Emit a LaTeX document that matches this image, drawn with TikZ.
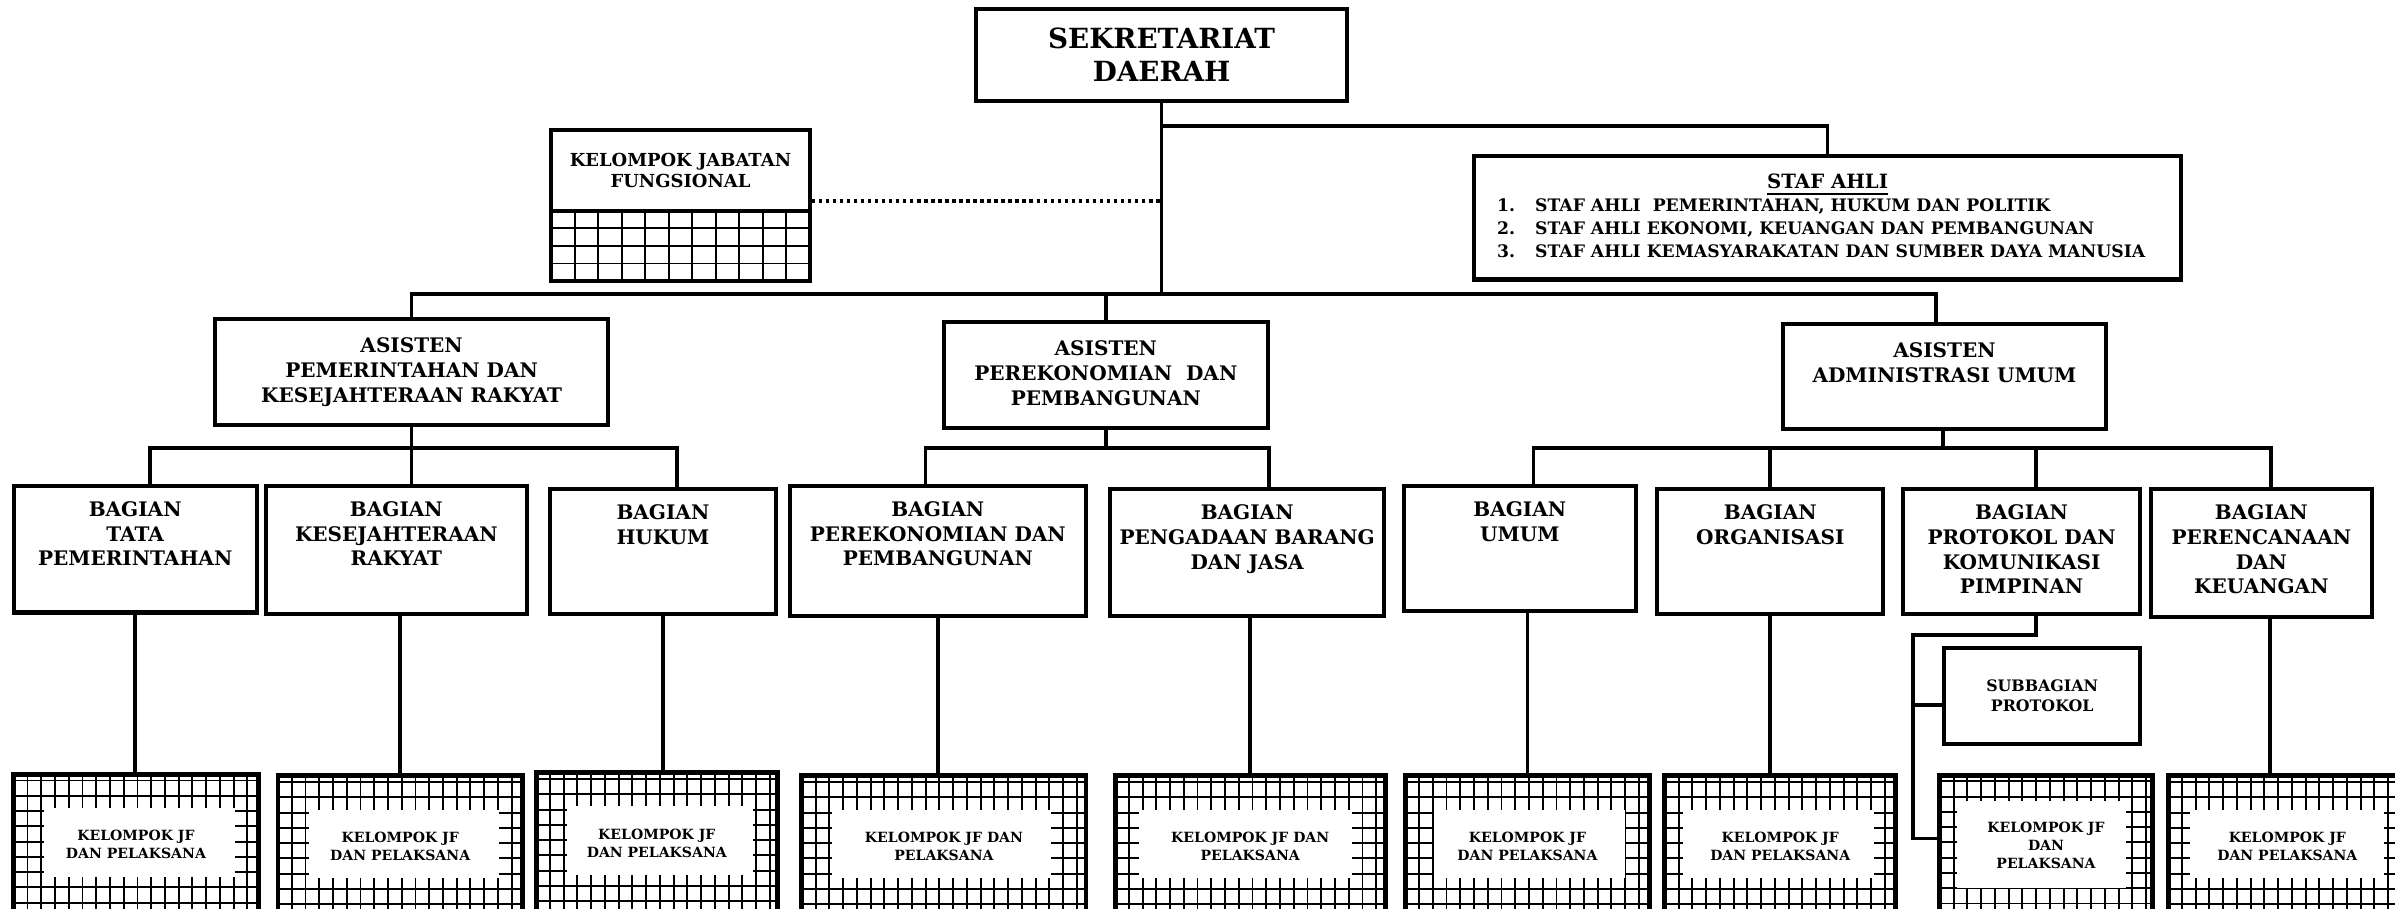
\documentclass[tikz,border=0pt]{standalone}
\usepackage{fontspec}
\setmainfont{DejaVu Serif}
\newdimen\pxu
\pxu=0.15274mm

\begin{document}
\begin{tikzpicture}[
            x=0.15274mm, y=-0.15274mm,
            box/.style={draw, line width=1.15pt, inner sep=0pt, align=center},
            wh/.style 2 args={minimum width=#1*\pxu, minimum height=#2*\pxu},
            lbl/.style={anchor=north, align=center, inner sep=0pt, font=\bfseries\fontsize{5.7}{7.1}\selectfont},
            conn/.style={draw, line width=1.05pt},
            dotline/.style={draw, line width=1.2pt, dash pattern=on 1pt off 1pt},
            gridline/.style={draw, line width=0.55pt},
            kjfgrid/.style={box, path picture={
                \coordinate (pw) at (path picture bounding box.north west);
                \coordinate (pe) at (path picture bounding box.north east);
                \coordinate (ps) at (path picture bounding box.south west);
                \foreach \i in {1,...,10}
                    \draw[gridline] ([xshift=\i*15.36*\pxu]pw) -- ([xshift=\i*15.36*\pxu]ps);
                \foreach \j in {1,2,3}
                    \draw[gridline] ([yshift=-\j*11.5*\pxu]pw) -- ([yshift=-\j*11.5*\pxu]pe);
            }},
            jf/.style n args={4}{box, line width=1.4pt, font=\bfseries\fontsize{4}{5.2}\selectfont,
                path picture={
                    \coordinate (pw) at (path picture bounding box.north west);
                    \coordinate (pe) at (path picture bounding box.north east);
                    \coordinate (ps) at (path picture bounding box.south west);
                    \foreach \i in {1,...,22}
                        \draw[gridline] ([xshift=\i*9*\pxu]pw) -- ([xshift=\i*9*\pxu]ps);
                    \foreach \j in {0,...,9}
                        \draw[gridline] ([yshift=-4*\pxu-\j*10*\pxu]pw) -- ([yshift=-4*\pxu-\j*10*\pxu]pe);
                    \fill[white] ([xshift=#1*\pxu, yshift=-#3*\pxu]pw) rectangle ([xshift=-#2*\pxu, yshift=-#4*\pxu]pe);
                }},
        ]
            \useasboundingbox (0,0) rectangle (1568,595);
            \clip (0,0) rectangle (1568,595);

            \node[box, wh={243}{60}, font=\bfseries\fontsize{7.9}{9.5}\selectfont] (sekda) at (760.5,36) {SEKRETARIAT\\DAERAH};

            \node[box, wh={463}{81}] (staf) at (1196.5,142.5) {};
            \node[lbl, font=\bfseries\fontsize{5.6}{6.3}\selectfont] (staft) at ([yshift=-13*\pxu]staf.north) {\underline{STAF AHLI}};
            \node[lbl, anchor=north west, align=left, font=\bfseries\fontsize{4.9}{6.5}\selectfont] (stafl) at ([xshift=16*\pxu, yshift=-29*\pxu]staf.north west)
                {\makebox[10.8pt][l]{1.}STAF AHLI\ \ PEMERINTAHAN, HUKUM DAN POLITIK\\
                 \makebox[10.8pt][l]{2.}STAF AHLI EKONOMI, KEUANGAN DAN PEMBANGUNAN\\
                 \makebox[10.8pt][l]{3.}STAF AHLI KEMASYARAKATAN DAN SUMBER DAYA MANUSIA};

            \node[box, wh={169}{53}, font=\bfseries\fontsize{5.1}{6.1}\selectfont] (kjf) at (445.5,111.5) {KELOMPOK JABATAN\\FUNGSIONAL};
            \node[kjfgrid, wh={169}{46}] (kjfg) at (445.5,161) {};

            \node[box, wh={257}{69}] (ast1) at (269.5,243.5) {};
            \node[lbl] (ast1t) at ([yshift=-13*\pxu]ast1.north) {ASISTEN\\PEMERINTAHAN DAN\\KESEJAHTERAAN RAKYAT};
            \node[box, wh={212}{69}] (ast2) at (724,245.5) {};
            \node[lbl] (ast2t) at ([yshift=-13*\pxu]ast2.north) {ASISTEN\\PEREKONOMIAN\ \ DAN\\PEMBANGUNAN};
            \node[box, wh={212}{69}] (ast3) at (1273,246.5) {};
            \node[lbl] (ast3t) at ([yshift=-13*\pxu]ast3.north) {ASISTEN\\ADMINISTRASI UMUM};

            \node[box, wh={159}{83}] (b1) at (88.5,359.5) {};
            \node[lbl] (b1t) at ([yshift=-11*\pxu]b1.north) {BAGIAN\\TATA\\PEMERINTAHAN};
            \node[box, wh={171}{84}] (b2) at (259.5,360) {};
            \node[lbl] (b2t) at ([yshift=-11*\pxu]b2.north) {BAGIAN\\KESEJAHTERAAN\\RAKYAT};
            \node[box, wh={148}{82}] (b3) at (434,361) {};
            \node[lbl] (b3t) at ([yshift=-11*\pxu]b3.north) {BAGIAN\\HUKUM};
            \node[box, wh={194}{85}] (b4) at (614,360.5) {};
            \node[lbl] (b4t) at ([yshift=-11*\pxu]b4.north) {BAGIAN\\PEREKONOMIAN DAN\\PEMBANGUNAN};
            \node[box, wh={179}{83}] (b5) at (816.5,361.5) {};
            \node[lbl] (b5t) at ([yshift=-11*\pxu]b5.north) {BAGIAN\\PENGADAAN BARANG\\DAN JASA};
            \node[box, wh={152}{82}] (b6) at (995,359) {};
            \node[lbl] (b6t) at ([yshift=-11*\pxu]b6.north) {BAGIAN\\UMUM};
            \node[box, wh={148}{82}] (b7) at (1159,361) {};
            \node[lbl] (b7t) at ([yshift=-11*\pxu]b7.north) {BAGIAN\\ORGANISASI};
            \node[box, wh={155}{82}] (b8) at (1323.5,361) {};
            \node[lbl] (b8t) at ([yshift=-11*\pxu]b8.north) {BAGIAN\\PROTOKOL DAN\\KOMUNIKASI\\PIMPINAN};
            \node[box, wh={145}{84}] (b9) at (1480.5,362) {};
            \node[lbl] (b9t) at ([yshift=-11*\pxu]b9.north) {BAGIAN\\PERENCANAAN\\DAN\\KEUANGAN};

            \node[box, wh={128}{63}, font=\bfseries\fontsize{4.5}{5.6}\selectfont] (sub) at (1337,455.5) {SUBBAGIAN\\PROTOKOL};

            \node[jf={20}{15}{22}{67}, wh={160}{92}] (jf1) at (89,553) {KELOMPOK JF\\DAN PELAKSANA};
            \node[jf={20}{15}{22}{67}, wh={160}{92}] (jf2) at (262,554) {KELOMPOK JF\\DAN PELAKSANA};
            \node[jf={20}{16}{22}{67}, wh={158}{92}] (jf3) at (430,552) {KELOMPOK JF\\DAN PELAKSANA};
            \node[jf={20}{23}{22}{67}, wh={186}{92}] (jf4) at (618,554) {KELOMPOK JF DAN\\PELAKSANA};
            \node[jf={16}{22}{22}{67}, wh={177}{92}] (jf5) at (818.5,554) {KELOMPOK JF DAN\\PELAKSANA};
            \node[jf={19}{16}{22}{67}, wh={160}{92}] (jf6) at (1000,554) {KELOMPOK JF\\DAN PELAKSANA};
            \node[jf={12}{14}{22}{67}, wh={151}{92}] (jf7) at (1165.5,554) {KELOMPOK JF\\DAN PELAKSANA};
            \node[jf={11}{17}{17}{74}, wh={139}{92}] (jf8) at (1339.5,553.5) {KELOMPOK JF\\DAN\\PELAKSANA};
            \node[jf={14}{15}{22}{67}, wh={156}{92}] (jf9) at (1497.5,554) {KELOMPOK JF\\DAN PELAKSANA};

            \coordinate (lv1) at (0,194);
            \draw[conn] (sekda.south) -- (sekda.south |- lv1);
            \draw[conn] ([yshift=-15*\pxu]sekda.south) -| (staf.north);
            \coordinate (dl) at ([yshift=5*\pxu]kjfg.north east);
            \draw[dotline] (dl) -- (dl -| sekda.south);
            \draw[conn] ([xshift=-5.5*\pxu]ast3.north) -- ++(0,-18) -| (ast1.north);
            \draw[conn] (ast2.north) -- (ast2.north |- lv1);

            \draw[conn] (ast1.south) -- ++(0,14) coordinate (g1);
            \draw[conn] ([xshift=9.5*\pxu]b1.north) |- (g1) -| ([xshift=9*\pxu]b3.north);
            \draw[conn] (g1) -- (g1 |- b2.north);
            \draw[conn] (ast2.south) -- ++(0,12) coordinate (g2);
            \draw[conn] ([xshift=-8*\pxu]b4.north) |- (g2) -| ([xshift=14.5*\pxu]b5.north);
            \draw[conn] ([xshift=-1*\pxu]ast3.south) -- ++(0,11) coordinate (g3);
            \draw[conn] ([xshift=9*\pxu]b6.north) |- (g3) -| ([xshift=6.5*\pxu]b9.north);
            \draw[conn] (b7.north) -- (b7.north |- g3);
            \draw[conn] ([xshift=9.5*\pxu]b8.north) coordinate (d8) -- (d8 |- g3);

            \draw[conn] (b1.south) -- (b1.south |- jf1.north);
            \draw[conn] (jf2.north) -- (jf2.north |- b2.south);
            \draw[conn] (b3.south) -- (b3.south |- jf3.north);
            \draw[conn] (b4.south) -- (b4.south |- jf4.north);
            \draw[conn] (jf5.north) -- (jf5.north |- b5.south);
            \draw[conn] (jf6.north) -- (jf6.north |- b6.south);
            \draw[conn] (b7.south) -- (b7.south |- jf7.north);
            \draw[conn] ([xshift=5.5*\pxu]b9.south) coordinate (d9) -- (d9 |- jf9.north);
            \draw[conn] ([xshift=9.5*\pxu]b8.south) -- ++(0,12.5) -| ([xshift=-16*\pxu, yshift=4.5*\pxu]jf8.west) -- ([yshift=4.5*\pxu]jf8.west);
            \draw[conn] ([yshift=-6*\pxu]sub.west) -- ++(-19,0);
        \end{tikzpicture}
\end{document}
